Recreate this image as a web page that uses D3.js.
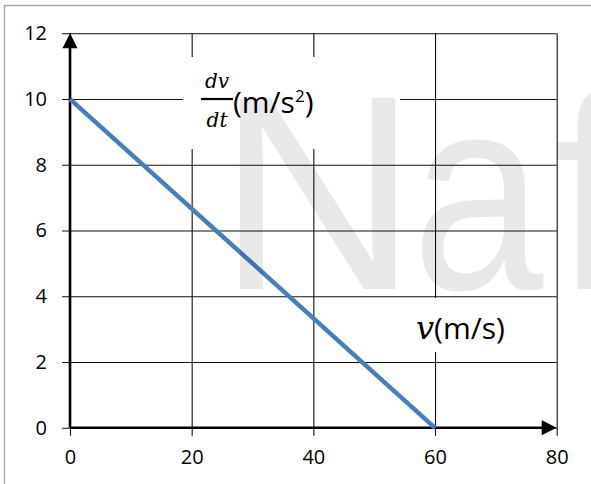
<!doctype html>
<html>
<head>
<meta charset="utf-8">
<script src="https://d3js.org/d3.v7.min.js"></script>
<style>
body { margin: 0; background: #fff; }
svg { display: block; }
.grid line { stroke: #111; stroke-width: 1.1; }
.grid .domain { display: none; }
.lbl { font-family: "Open Sans", sans-serif; fill: #000; }
.math { font-family: "DejaVu Serif", serif; font-style: italic; fill: #000; }
.wm { font-family: "Liberation Sans", sans-serif; font-size: 278px; fill: #000; fill-opacity: 0.085; }
</style>
</head>
<body>
<svg width="591" height="484" id="chart"></svg>

<script type="text/javascript">
// data: dv/dt against v
var speed = [0, 60];
var accel = [10, 0];
var xTicks = [0, 20, 40, 60, 80];
var yTicks = [0, 2, 4, 6, 8, 10, 12];

var svg = d3.select("#chart");
var padL = 70, padT = 33.3, w = 486.7, h = 394.5;

// outer frame (only top/left visible in the crop)
svg.append("path")
  .attr("d", "M4.5,600 V5.5 H700")
  .attr("fill", "none").attr("stroke", "#a6a6a6").attr("stroke-width", 1.3);

var x = d3.scaleLinear().domain([0, 80]).range([0, w]);
var y = d3.scaleLinear().domain([0, 12]).range([h, 0]);

var g = svg.append("g").attr("transform", "translate(" + padL + "," + padT + ")");

// horizontal gridlines + y labels
var gy = g.append("g").attr("class", "grid")
  .call(d3.axisLeft(y).tickValues(yTicks).tickSizeInner(-w).tickSizeOuter(0).tickPadding(23));
gy.selectAll(".tick line").attr("x1", -8);

// vertical gridlines + x labels
var gx = g.append("g").attr("class", "grid").attr("transform", "translate(0," + h + ")")
  .call(d3.axisBottom(x).tickValues(xTicks).tickSizeInner(-h).tickSizeOuter(0).tickPadding(22));
gx.selectAll(".tick line").attr("y1", 8);
gx.selectAll(".tick text").attr("dy", "0.71em");

g.selectAll(".tick text")
  .attr("font-family", "Open Sans, sans-serif").attr("font-size", 20).attr("fill", "#000");

// white boxes behind the axis titles
svg.append("rect").attr("x", 183).attr("y", 57).attr("width", 217).attr("height", 92).attr("fill", "#fff");
svg.append("rect").attr("x", 400).attr("y", 298).attr("width", 155).attr("height", 54).attr("fill", "#fff");

// axes with arrows
var ax = 2.6;
g.append("line").attr("x1", x(0)).attr("x2", x(80) - 14).attr("y1", y(0)).attr("y2", y(0))
  .attr("stroke", "#000").attr("stroke-width", ax);
g.append("path").attr("d", "M" + x(80) + "," + y(0) + " l-15,-7.5 v15 z").attr("fill", "#000");
g.append("line").attr("x1", x(0)).attr("x2", x(0)).attr("y1", y(0)).attr("y2", y(12) + 14)
  .attr("stroke", "#000").attr("stroke-width", ax);
g.append("path").attr("d", "M" + x(0) + "," + y(12) + " l-7.5,15 h15 z").attr("fill", "#000");

// series line
var line = d3.line().x(function(d, i) { return x(speed[i]); }).y(function(d) { return y(d); });
g.append("path").datum(accel).attr("d", line)
  .attr("fill", "none").attr("stroke", "#4a7ebb").attr("stroke-width", 4.5);

// axis titles
var t1 = svg.append("g");
t1.append("text").attr("class", "math").attr("x", 217).attr("y", 88).attr("text-anchor", "middle")
  .attr("font-size", 20).text("dv");
t1.append("line").attr("x1", 201).attr("x2", 233).attr("y1", 99).attr("y2", 99)
  .attr("stroke", "#000").attr("stroke-width", 2.2);
t1.append("text").attr("class", "math").attr("x", 217).attr("y", 127).attr("text-anchor", "middle")
  .attr("font-size", 20).text("dt");
var lab = t1.append("text").attr("class", "lbl").attr("x", 233).attr("y", 113).attr("font-size", 30);
lab.append("tspan").text("(m/s");
lab.append("tspan").attr("font-size", 17).attr("dy", -11).text("2");
lab.append("tspan").attr("dy", 11).text(")");

var t2 = svg.append("text").attr("x", 416).attr("y", 339);
t2.append("tspan").attr("class", "math").attr("font-size", 32).text("v");
t2.append("tspan").attr("class", "lbl").attr("font-size", 30).text("(m/s)");

// watermark, letter by letter
svg.append("text").attr("class", "wm").attr("x", 217).attr("y", 289).text("N");
svg.append("text").attr("class", "wm").attr("transform", "translate(412,289) scale(0.85,1)").text("a");
svg.append("text").attr("class", "wm").attr("x", 553).attr("y", 289).text("f");
</script>
</body>
</html>
